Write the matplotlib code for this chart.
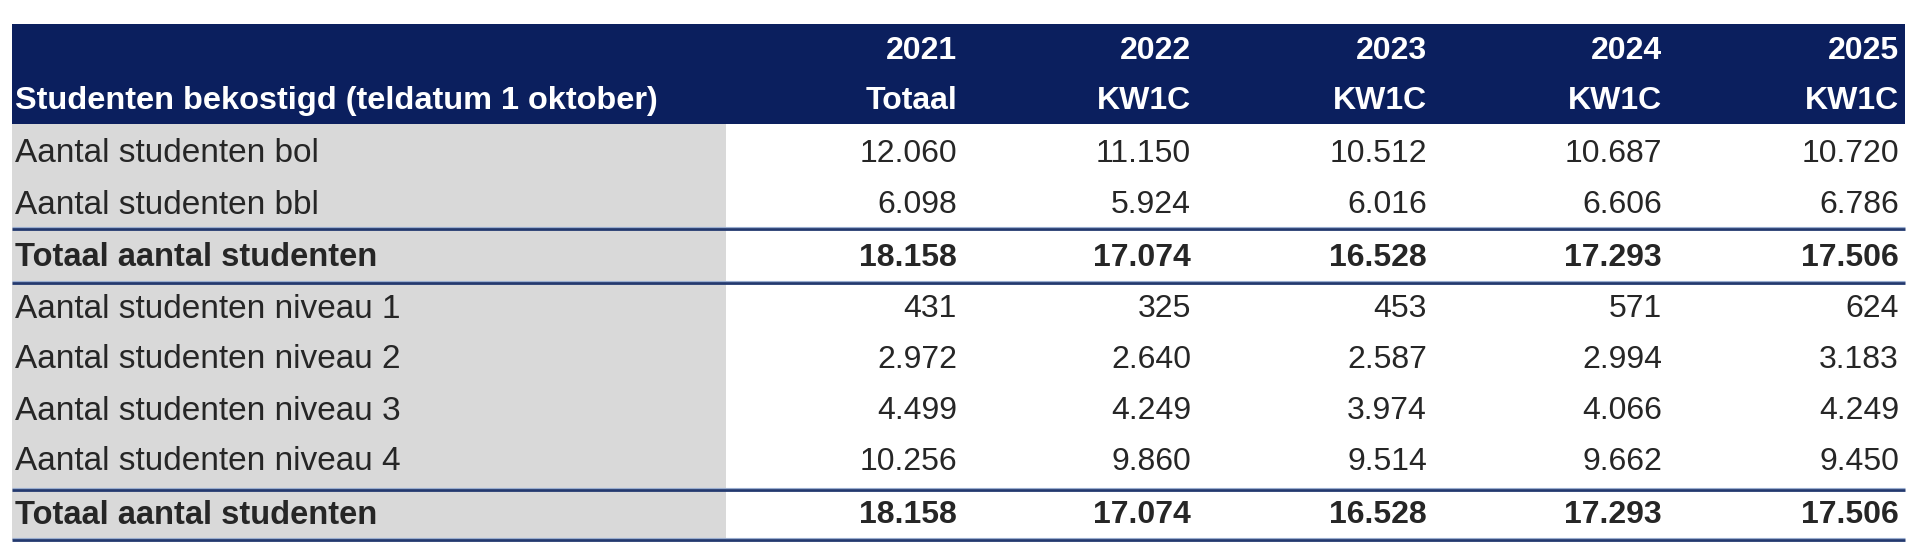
import matplotlib
matplotlib.use("Agg")
import matplotlib.pyplot as plt
from matplotlib.patches import Rectangle

# ---- data ----
years = ["2021", "2022", "2023", "2024", "2025"]
subheads = ["Totaal", "KW1C", "KW1C", "KW1C", "KW1C"]
title_label = "Studenten bekostigd (teldatum 1 oktober)"
row_labels = [
    "Aantal studenten bol",
    "Aantal studenten bbl",
    "Totaal aantal studenten",
    "Aantal studenten niveau 1",
    "Aantal studenten niveau 2",
    "Aantal studenten niveau 3",
    "Aantal studenten niveau 4",
    "Totaal aantal studenten",
]
values = [
    ["12.060", "11.150", "10.512", "10.687", "10.720"],
    ["6.098", "5.924", "6.016", "6.606", "6.786"],
    ["18.158", "17.074", "16.528", "17.293", "17.506"],
    ["431", "325", "453", "571", "624"],
    ["2.972", "2.640", "2.587", "2.994", "3.183"],
    ["4.499", "4.249", "3.974", "4.066", "4.249"],
    ["10.256", "9.860", "9.514", "9.662", "9.450"],
    ["18.158", "17.074", "16.528", "17.293", "17.506"],
]
bold_rows = [2, 7]

# ---- layout (pixels) ----
W, H = 1920, 551
left, right = 12, 1905
head_top, head_bot = 24, 124
row_y = [154, 205, 258, 309, 360, 411, 462, 515]
col_right = [957, 1191, 1427, 1662, 1899]
gray_right = 726
table_bottom = 540
lines_y = [229, 283, 490, 540]
label_x = 15
year_y, sub_y = 51, 101

navy = "#0B1F5E"
gray = "#D9D9D9"
line_c = "#23396F"
txt = "#262626"

fig = plt.figure(figsize=(W / 100, H / 100), dpi=100)
ax = fig.add_axes([0, 0, 1, 1])
ax.set_xlim(0, W)
ax.set_ylim(H, 0)
ax.axis("off")

# header band
ax.add_patch(Rectangle((left, head_top), right - left, head_bot - head_top,
                       facecolor=navy, edgecolor="none"))
# gray label column
ax.add_patch(Rectangle((left, head_bot), gray_right - left, table_bottom - head_bot,
                       facecolor=gray, edgecolor="none"))

# horizontal rules
for y in lines_y:
    ax.plot([left, right], [y - 1.8, y - 1.8], color="#9AAED0", lw=0.8, solid_capstyle="butt")
    ax.plot([left, right], [y, y], color=line_c, lw=2.0, solid_capstyle="butt")

label_font = ["Liberation Sans", "DejaVu Sans"]
num_font = ["Liberation Sans", "DejaVu Sans"]

# header texts
for j, (yr, sh) in enumerate(zip(years, subheads)):
    ax.text(col_right[j], year_y, yr, ha="right", va="center", color="white",
            fontsize=23, fontweight="bold", family=num_font)
    ax.text(col_right[j], sub_y, sh, ha="right", va="center", color="white",
            fontsize=23, fontweight="bold", family=num_font)
title_t = ax.text(label_x, sub_y, title_label, ha="left", va="center", color="white",
                  fontsize=23, fontweight="bold", family=label_font)

# rows
reg_labels, bold_labels = [], []
for i, (lab, vals) in enumerate(zip(row_labels, values)):
    fw = "bold" if i in bold_rows else "normal"
    t = ax.text(label_x, row_y[i], lab, ha="left", va="center", color=txt,
                fontsize=23, fontweight=fw, family=label_font)
    (bold_labels if i in bold_rows else reg_labels).append(t)
    for j, v in enumerate(vals):
        ax.text(col_right[j], row_y[i], v, ha="right", va="center", color=txt,
                fontsize=23, fontweight=fw, family=num_font)

# fit label widths to reference widths
fig.canvas.draw()
r = fig.canvas.get_renderer()
def fit(ref_text, group, target):
    w = ref_text.get_window_extent(r).width
    s = ref_text.get_fontsize() * target / w
    for t in group:
        t.set_fontsize(s)
fit(reg_labels[3], reg_labels, 387)
fit(bold_labels[0], bold_labels, 362)
fit(title_t, [title_t], 643)

fig.savefig("out.png", dpi=100, facecolor="white")
